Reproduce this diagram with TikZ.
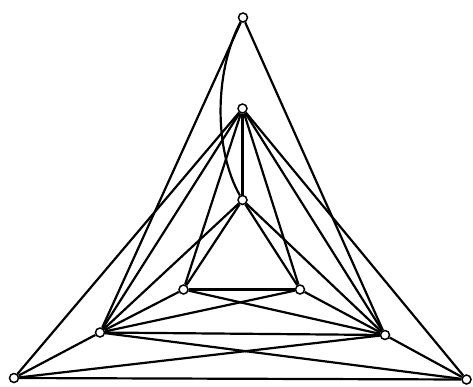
\documentclass[tikz,border=0pt]{standalone}
\begin{document}
\begin{tikzpicture}[x=1pt,y=-1pt,
  vtx/.style={circle,draw,fill=white,line width=1.5pt,inner sep=0pt,minimum size=9pt},
  edge/.style={line width=2.2pt}]
\useasboundingbox (0,0) rectangle (473,386);
\fill[white] (0,0) rectangle (473,386);
\node[vtx] (A) at (243,17.5) {};
\node[vtx] (B) at (242.5,108.5) {};
\node[vtx] (C) at (242.5,200) {};
\node[vtx] (D) at (183.5,289.5) {};
\node[vtx] (E) at (300,289.5) {};
\node[vtx] (F) at (100,332.5) {};
\node[vtx] (G) at (385,335) {};
\node[vtx] (H) at (14,378) {};
\node[vtx] (I) at (466.5,379.5) {};
\foreach \u/\v in {H/I,H/B,I/B,H/F,I/G,A/F,A/G,B/C,B/D,B/E,B/F,B/G,
  C/D,C/E,C/F,C/G,D/E,D/F,D/G,E/F,E/G,F/G,F/I,G/H}
  \draw[edge] (\u) -- (\v);
\draw[edge] (A) .. controls (214,72) and (214,150) .. (C);
\end{tikzpicture}
\end{document}
